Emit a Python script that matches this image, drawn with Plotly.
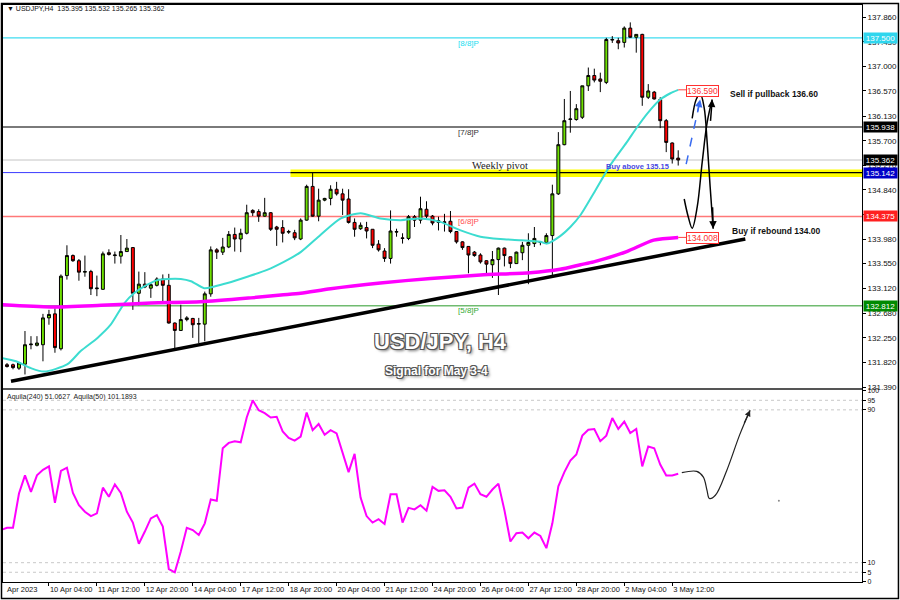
import plotly.graph_objects as go

# ---------------- DATA ----------------
candle_idx = list(range(-7, 106))
opens = [131.78, 131.78, 131.72, 131.79, 132.13, 132.12, 132.13, 132.60, 132.67, 132.06,
         133.34, 133.69, 133.60, 133.40, 133.41, 133.11, 133.10, 133.74, 133.69, 133.68,
         133.76, 133.83, 133.03, 133.19, 133.12, 133.17, 133.28, 133.17, 132.51, 132.38,
         132.57, 132.59, 132.49, 132.49, 133.02, 133.79, 133.75, 133.84, 134.06, 133.98,
         134.08, 134.48, 134.46, 134.38, 134.44, 134.19, 134.18, 134.10, 134.09, 133.98,
         134.31, 134.90, 134.38, 134.66, 134.69, 134.85, 134.77, 134.68, 134.27, 134.16,
         134.18, 134.15, 133.89, 133.77, 133.64, 134.10, 134.00, 133.99, 134.37, 134.31,
         134.50, 134.38, 134.27, 134.28, 134.29, 134.11, 133.93, 133.85, 133.75, 133.70,
         133.60, 133.53, 133.62, 133.82, 133.67, 133.55, 133.74, 133.87, 133.90, 133.92,
         133.92, 134.04, 134.77, 135.63, 136.07, 136.07, 136.11, 136.66, 136.84, 136.78,
         136.72, 137.46, 137.45, 137.42, 137.67, 137.51, 137.56, 136.46, 136.55, 136.42,
         136.05, 135.66, 135.395]
highs = [131.81, 131.80, 131.83, 132.37, 132.28, 132.28, 132.67, 132.74, 132.77, 133.36,
         133.87, 133.71, 133.63, 133.69, 133.44, 133.34, 133.76, 133.80, 133.76, 134.05,
         133.98, 133.84, 133.41, 133.40, 133.21, 133.31, 133.36, 133.37, 132.52, 132.83,
         132.63, 132.60, 132.60, 133.06, 133.85, 133.82, 134.00, 134.12, 134.18, 134.16,
         134.58, 134.50, 134.50, 134.70, 134.45, 134.21, 134.31, 134.14, 134.14, 134.34,
         134.93, 135.14, 134.86, 134.70, 134.92, 134.98, 134.86, 134.85, 134.34, 134.27,
         134.28, 134.15, 133.96, 133.82, 134.48, 134.16, 134.08, 134.40, 134.40, 134.72,
         134.64, 134.40, 134.37, 134.42, 134.47, 134.12, 133.94, 133.85, 133.77, 133.73,
         133.61, 133.77, 133.83, 133.83, 133.67, 133.76, 133.93, 134.08, 134.19, 133.94,
         134.08, 134.93, 135.85, 136.43, 136.57, 136.34, 136.66, 136.98, 136.96, 136.89,
         137.50, 137.53, 137.50, 137.70, 137.77, 137.56, 137.57, 136.69, 136.57, 136.46,
         136.08, 135.67, 135.532]
lows = [131.73, 131.70, 131.69, 131.61, 132.05, 132.10, 131.84, 132.48, 131.99, 132.03,
        133.27, 133.58, 133.25, 133.32, 133.00, 132.98, 133.09, 133.69, 133.55, 133.55,
        133.76, 132.74, 132.82, 133.12, 132.95, 133.15, 132.89, 132.50, 132.05, 132.37,
        132.54, 132.25, 132.16, 132.19, 132.97, 133.63, 133.70, 133.82, 133.76, 133.75,
        134.06, 134.38, 134.28, 134.37, 134.12, 133.86, 133.92, 134.07, 133.96, 133.96,
        134.30, 134.37, 134.29, 134.64, 134.57, 134.74, 134.40, 134.25, 134.02, 134.14,
        133.99, 133.82, 133.76, 133.58, 133.55, 134.02, 133.90, 133.96, 134.19, 134.25,
        134.34, 134.22, 134.13, 134.11, 134.08, 133.90, 133.79, 133.38, 133.67, 133.55,
        133.38, 133.30, 133.00, 133.50, 133.47, 133.55, 133.61, 133.19, 133.84, 133.87,
        133.89, 133.35, 134.75, 135.62, 135.84, 136.05, 136.08, 136.57, 136.72, 136.55,
        136.69, 137.41, 137.30, 137.33, 137.50, 137.24, 136.31, 136.43, 136.42, 135.92,
        135.50, 135.30, 135.265]
closes = [131.75, 131.73, 131.81, 132.13, 132.14, 132.16, 132.60, 132.66, 132.08, 133.33,
          133.69, 133.60, 133.40, 133.41, 133.11, 133.12, 133.72, 133.71, 133.70, 133.76,
          133.82, 133.03, 133.19, 133.14, 133.18, 133.28, 133.17, 132.51, 132.38, 132.57,
          132.60, 132.48, 132.50, 133.02, 133.79, 133.75, 133.84, 134.06, 133.98, 134.08,
          134.44, 134.44, 134.38, 134.44, 134.15, 134.15, 134.08, 134.11, 134.00, 134.31,
          134.90, 134.38, 134.66, 134.69, 134.85, 134.77, 134.66, 134.27, 134.15, 134.22,
          134.12, 133.87, 133.79, 133.64, 134.12, 134.11, 133.99, 134.37, 134.31, 134.51,
          134.38, 134.26, 134.30, 134.27, 134.11, 133.93, 133.83, 133.70, 133.69, 133.58,
          133.54, 133.62, 133.82, 133.69, 133.55, 133.75, 133.87, 133.92, 133.99, 133.93,
          134.04, 134.77, 135.63, 136.05, 136.08, 136.26, 136.66, 136.84, 136.76, 136.74,
          137.47, 137.47, 137.41, 137.67, 137.51, 137.56, 136.46, 136.57, 136.43, 136.05,
          135.67, 135.38, 135.362]

ma_fast_x = [-8, -5.5, -3, -0.8, 3.1, 5.3, 8.1, 10.3, 12.6, 14.2, 15.9, 18.1, 19.8, 22, 23.7,
             25.9, 27.6, 29.8, 33.1, 36.4, 39.2, 42, 45.3, 48.7, 52, 55.3, 58.7, 62, 65.3,
             68.7, 72, 75.3, 78.7, 82, 83.1, 85.3, 87, 88.7, 90.9, 93.6, 96.4, 98.1, 99.8,
             102, 103.7, 105]
ma_fast_y = [131.90, 131.84, 131.72, 131.66, 131.79, 132.02, 132.25, 132.48, 132.86, 133.03,
             133.15, 133.26, 133.28, 133.28, 133.24, 133.12, 133.15, 133.21, 133.32, 133.44,
             133.58, 133.75, 134.05, 134.34, 134.43, 134.34, 134.31, 134.34, 134.28, 134.13,
             134.02, 133.98, 133.96, 133.93, 133.90, 134.03, 134.19, 134.40, 134.78, 135.26,
             135.67, 135.93, 136.17, 136.42, 136.53, 136.59]
ma_slow_x = [-8, 0.3, 8.7, 17, 25.3, 33.7, 38.7, 42, 47, 55.3, 63.7, 72, 80.3, 85.3, 88.7,
             90.9, 96.4, 100.9, 105]
ma_slow_y = [132.83, 132.79, 132.82, 132.86, 132.88, 132.95, 133.00, 133.03, 133.11, 133.21,
             133.29, 133.35, 133.39, 133.45, 133.53, 133.58, 133.76, 133.96, 134.008]

osc_idx = list(range(-8, 106))
osc_vals = [27.1, 28.3, 28.3, 46.2, 55.7, 47.1, 55.7, 58.6, 60.4, 41.3,
            58.0, 59.7, 46.5, 40.1, 36.7, 34.4, 35.8, 49.3, 44.5, 51.0,
            46.5, 36.7, 31.0, 19.9, 26.3, 33.2, 34.9, 28.9, 6.7, 5.0,
            15.9, 28.3, 27.1, 24.5, 30.6, 43.1, 42.4, 69.9, 72.7, 73.6,
            73.0, 86.0, 95.0, 89.8, 88.3, 86.0, 86.4, 78.7, 75.3, 73.9,
            76.0, 88.6, 79.4, 82.6, 77.0, 79.4, 77.7, 67.8, 57.4, 67.0,
            44.1, 34.4, 31.0, 32.8, 30.3, 45.8, 45.8, 31.0, 38.7, 37.9,
            40.1, 37.2, 49.7, 47.6, 47.9, 44.5,
            38.4, 38.9, 49.3, 51.4, 45.8, 44.5, 48.3, 51.4, 37.5, 21.1,
            25.4, 25.8, 22.8, 25.8, 24.0, 17.6, 30.6, 50.0, 57.4, 63.5,
            66.6, 76.5, 79.6, 80.0, 73.6, 76.5, 85.7, 80.0, 83.9, 77.9,
            80.0, 60.4, 70.8, 69.9, 61.4, 55.7, 55.7, 56.6]

trend_x = [-6.33, 116.2]
trend_y = [131.49, 133.98]

level_prices = [137.500, 135.938, 135.362, 135.142, 134.375, 132.812]
level_colors = ['#3fdcf0', '#7a7a7a', '#c4c4c4', '#3b3bff', '#ff7878', '#70bb70']
level_widths = [1.2, 2, 1, 1, 1.5, 1.5]
level_tag_bg = ['#2fd6ee', '#000000', '#000000', '#0000c8', '#ff2020', '#008a00']

pivot_band = [135.063, 135.197]
pivot_start = 40.3

murrey_names = ['[8/8]P', '[7/8]P', '[6/8]P', '[5/8]P']
murrey_y = [137.40, 135.85, 134.28, 132.73]
murrey_colors = ['#22ddf0', '#333333', '#ff5050', '#33aa33']

price_ticks = [137.860, 137.430, 137.000, 136.570, 136.130, 135.700, 135.270, 134.840,
               134.410, 133.980, 133.550, 133.120, 132.680, 132.250, 131.820, 131.390]
osc_ticks = [0, 5, 10, 90, 95, 100]

date_ticks = [0, 8, 16, 24, 32, 40, 48, 56, 64, 72, 80, 88, 96, 104]
date_labels = ['10 Apr 04:00', '11 Apr 12:00', '12 Apr 20:00', '14 Apr 04:00', '17 Apr 12:00',
               '18 Apr 20:00', '20 Apr 04:00', '21 Apr 12:00', '24 Apr 20:00', '26 Apr 04:00',
               '27 Apr 12:00', '28 Apr 20:00', '2 May 04:00', '3 May 12:00']

sell_path_x = [107.33, 108.0, 108.67, 109.33, 109.83, 110.33, 110.83]
sell_path_y = [136.09, 136.42, 136.52, 136.28, 135.67, 134.89, 134.16]
buy_path_x = [106.0, 106.67, 107.33, 108.17, 109.0, 109.83, 110.67]
buy_path_y = [134.68, 134.37, 134.17, 134.54, 135.32, 136.02, 136.42]
blue_arrow_x = [106.33, 108.67]
blue_arrow_y = [135.29, 136.42]
osc_path_x = [105.6, 108.1, 109.2, 109.8, 110.2, 111.2, 113.1, 115.3, 117.0]
osc_path_y = [57.1, 57.8, 54.8, 47.9, 43.6, 45.3, 58.3, 77.3, 89.8]

# ---------------- FIGURE ----------------
X_RANGE = [-7.667, 135.667]
FONT = 'Liberation Sans'
fig = go.Figure()

fig.add_trace(go.Candlestick(
    x=candle_idx, open=opens, high=highs, low=lows, close=closes,
    increasing=dict(line=dict(color='black', width=1), fillcolor='#6ee000'),
    decreasing=dict(line=dict(color='black', width=1), fillcolor='#ff0000'),
    whiskerwidth=0, xaxis='x', yaxis='y', showlegend=False, hoverinfo='skip'))

fig.add_trace(go.Scatter(x=ma_fast_x, y=ma_fast_y, mode='lines',
                         line=dict(color='#3cdcd0', width=2, shape='spline', smoothing=0.7),
                         xaxis='x', yaxis='y', hoverinfo='skip'))
fig.add_trace(go.Scatter(x=ma_slow_x, y=ma_slow_y, mode='lines',
                         line=dict(color='#ff00ff', width=3.5, shape='spline', smoothing=0.7),
                         xaxis='x', yaxis='y', hoverinfo='skip'))
fig.add_trace(go.Scatter(x=trend_x, y=trend_y, mode='lines',
                         line=dict(color='black', width=3.5), xaxis='x', yaxis='y', hoverinfo='skip'))

fig.add_trace(go.Scatter(x=[ma_fast_x[-1], 106.33], y=[ma_fast_y[-1], ma_fast_y[-1]], mode='lines',
                         line=dict(color='#ff4040', width=1), xaxis='x', yaxis='y', hoverinfo='skip'))
fig.add_trace(go.Scatter(x=[ma_slow_x[-1], 106.33], y=[ma_slow_y[-1], ma_slow_y[-1]], mode='lines',
                         line=dict(color='#ff4040', width=1), xaxis='x', yaxis='y', hoverinfo='skip'))

fig.add_trace(go.Scatter(x=sell_path_x, y=sell_path_y, mode='lines',
                         line=dict(color='black', width=1.5, shape='spline'), xaxis='x', yaxis='y', hoverinfo='skip'))
fig.add_trace(go.Scatter(x=buy_path_x, y=buy_path_y, mode='lines',
                         line=dict(color='black', width=1.5, shape='spline'), xaxis='x', yaxis='y', hoverinfo='skip'))
fig.add_trace(go.Scatter(x=blue_arrow_x, y=blue_arrow_y, mode='lines',
                         line=dict(color='#3a6cf0', width=1.5, dash='dash'), xaxis='x', yaxis='y', hoverinfo='skip'))

fig.add_trace(go.Scatter(x=osc_idx, y=osc_vals, mode='lines', line=dict(color='#ff00ff', width=2),
                         xaxis='x2', yaxis='y2', hoverinfo='skip'))
fig.add_trace(go.Scatter(x=osc_path_x, y=osc_path_y, mode='lines',
                         line=dict(color='#222222', width=1.2, shape='spline'), xaxis='x2', yaxis='y2', hoverinfo='skip'))
fig.add_trace(go.Scatter(x=[121.8], y=[42.4], mode='markers', marker=dict(color='#888888', size=2),
                         xaxis='x2', yaxis='y2', hoverinfo='skip'))

shapes = []
for p, c, w in zip(level_prices, level_colors, level_widths):
    shapes.append(dict(type='line', xref='paper', x0=0, x1=1, yref='y', y0=p, y1=p,
                       line=dict(color=c, width=w), layer='below'))
shapes.append(dict(type='rect', xref='x', x0=pivot_start, x1=X_RANGE[1], yref='y',
                   y0=pivot_band[0], y1=pivot_band[1], fillcolor='#ffff00', line=dict(width=0), layer='below'))
shapes.append(dict(type='line', xref='x', x0=pivot_start, x1=X_RANGE[1], yref='y',
                   y0=level_prices[3], y1=level_prices[3], line=dict(color='black', width=1.2), layer='below'))
for v in [5, 10, 90, 95]:
    shapes.append(dict(type='line', xref='paper', x0=0, x1=1, yref='y2', y0=v, y1=v,
                       line=dict(color='#c8c8c8', width=1, dash='dot'), layer='below'))
shapes.append(dict(type='rect', xref='paper', x0=0, x1=1, yref='paper', y0=0.33276, y1=0.33621,
                   fillcolor='#555555', line=dict(width=0)))
shapes.append(dict(type='rect', xref='paper', x0=-0.00174, x1=1.04244, yref='paper', y0=-0.02845, y1=1.00259,
                   line=dict(color='black', width=1.5), fillcolor='rgba(0,0,0,0)'))

ann = []
for p, bg in zip(level_prices, level_tag_bg):
    ann.append(dict(xref='paper', x=1, xanchor='left', xshift=1, yref='y', y=p, yanchor='middle',
                    text='%.3f' % p, showarrow=False, bgcolor=bg, width=33, height=10, borderpad=0,
                    font=dict(family=FONT, size=8, color='white')))
for t, y, c in zip(murrey_names, murrey_y, murrey_colors):
    ann.append(dict(xref='x', x=70, yref='y', y=y, text=t, showarrow=False,
                    font=dict(family=FONT, size=8, color=c)))
ann.append(dict(xref='x', x=75.3, yref='y', y=135.27, text='Weekly pivot', showarrow=False,
                font=dict(family='Liberation Serif', size=10.5, color='#222222')))
ann.append(dict(xref='x', x=106.33, xanchor='left', yref='y', y=136.57, text='136.590', showarrow=False,
                bgcolor='white', bordercolor='#ff3030', borderwidth=1, borderpad=0,
                font=dict(family=FONT, size=8.5, color='#ff3030')))
ann.append(dict(xref='x', x=106.33, xanchor='left', yref='y', y=133.99, text='134.008', showarrow=False,
                bgcolor='white', bordercolor='#ff3030', borderwidth=1, borderpad=0,
                font=dict(family=FONT, size=8.5, color='#ff3030')))
ann.append(dict(xref='x', x=113.3, xanchor='left', yref='y', y=136.525, text='<b>Sell if pullback 136.60</b>',
                showarrow=False, font=dict(family=FONT, size=8.5, color='#111111')))
ann.append(dict(xref='x', x=113.6, xanchor='left', yref='y', y=134.12, text='<b>Buy if rebound 134.00</b>',
                showarrow=False, font=dict(family=FONT, size=8.5, color='#111111')))
ann.append(dict(xref='x', x=98.25, yref='y', y=135.25, text='<b>Buy above 135.15</b>',
                showarrow=False, font=dict(family=FONT, size=7.5, color='#4848e0')))
ann.append(dict(xref='x', yref='y', axref='x', ayref='y', x=sell_path_x[-1], y=sell_path_y[-1],
                ax=sell_path_x[-1] - 0.1, ay=sell_path_y[-1] + 0.4, text='', showarrow=True,
                arrowhead=2, arrowsize=1, arrowwidth=1.5, arrowcolor='black'))
ann.append(dict(xref='x', yref='y', axref='x', ayref='y', x=buy_path_x[-1], y=buy_path_y[-1],
                ax=buy_path_x[-1] - 0.3, ay=buy_path_y[-1] - 0.4, text='', showarrow=True,
                arrowhead=2, arrowsize=1, arrowwidth=1.5, arrowcolor='black'))
ann.append(dict(xref='x', yref='y', axref='x', ayref='y', x=blue_arrow_x[-1], y=blue_arrow_y[-1],
                ax=blue_arrow_x[-1] - 0.5, ay=blue_arrow_y[-1] - 0.25, text='', showarrow=True,
                arrowhead=2, arrowsize=1, arrowwidth=1.5, arrowcolor='#3a6cf0'))
ann.append(dict(xref='x2', yref='y2', axref='x2', ayref='y2', x=osc_path_x[-1], y=osc_path_y[-1],
                ax=osc_path_x[-2] + 0.6, ay=osc_path_y[-2] + 5, text='', showarrow=True,
                arrowhead=2, arrowsize=1, arrowwidth=1.2, arrowcolor='#222222'))
shadow = '1px 1px 0 #555, -1px -1px 0 #555, 1px -1px 0 #555, -1px 1px 0 #555, 2px 2px 3px #777'
ann.append(dict(xref='paper', yref='paper', x=0.5093, y=0.4172, text='<b>USD/JPY, H4</b>', showarrow=False,
                font=dict(family=FONT, size=22, color='white', shadow=shadow)))
ann.append(dict(xref='paper', yref='paper', x=0.5047, y=0.3655, text='<b>Signal for May 3-4</b>', showarrow=False,
                font=dict(family=FONT, size=12, color='white', shadow=shadow)))
ann.append(dict(xref='paper', yref='paper', x=0.0023, y=0.9931, xanchor='left', yanchor='middle',
                text='\u25bc USDJPY,H4  135.395 135.532 135.265 135.362', showarrow=False,
                font=dict(family=FONT, size=7, color='#111111')))
ann.append(dict(xref='paper', yref='paper', x=0.0023, y=0.3207, xanchor='left', yanchor='middle',
                text='Aquila(240) 51.0627  Aquila(50) 101.1893', showarrow=False,
                font=dict(family=FONT, size=7, color='#222222')))
ann.append(dict(xref='paper', yref='paper', x=0.0023, y=-0.0138, xanchor='left', yanchor='middle',
                text='Apr 2023', showarrow=False, font=dict(family=FONT, size=7.5, color='#111111')))

axis_common = dict(showgrid=False, zeroline=False, showline=True, linecolor='black', linewidth=1, mirror=True)
fig.update_layout(
    width=900, height=600, margin=dict(l=2, r=38, t=2, b=18),
    paper_bgcolor='white', plot_bgcolor='white', showlegend=False,
    xaxis=dict(domain=[0, 1], range=X_RANGE, anchor='y', showticklabels=False, ticks='',
               rangeslider=dict(visible=False), **axis_common),
    yaxis=dict(domain=[0.33621, 1], range=[131.373, 138.074], anchor='x', side='right',
               tickmode='array', tickvals=price_ticks, ticktext=['%.3f' % t for t in price_ticks],
               ticks='outside', ticklen=3, tickcolor='black',
               tickfont=dict(family=FONT, size=8, color='#111111'), **axis_common),
    xaxis2=dict(domain=[0, 1], range=X_RANGE, anchor='y2', tickmode='array', tickvals=date_ticks,
                ticktext=date_labels, ticks='outside', ticklen=3, tickcolor='black', tickangle=0,
                ticklabelposition='outside right',
                tickfont=dict(family=FONT, size=7.5, color='#111111'), **axis_common),
    yaxis2=dict(domain=[0, 0.33276], range=[-0.1, 100.39], anchor='x2', side='right',
                tickmode='array', tickvals=osc_ticks, ticktext=[str(t) for t in osc_ticks],
                ticks='outside', ticklen=3, tickcolor='black',
                tickfont=dict(family=FONT, size=7, color='#111111'), **axis_common),
    shapes=shapes, annotations=ann,
)

fig.write_html('out.html', config={'displayModeBar': False},
               post_script="document.body.style.margin='0';document.body.style.overflow='hidden';")
